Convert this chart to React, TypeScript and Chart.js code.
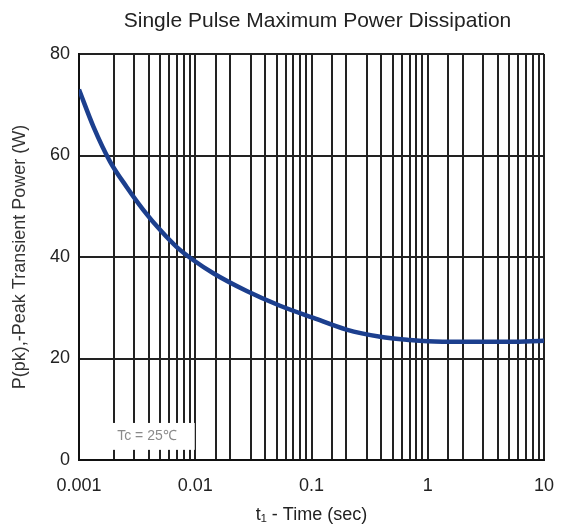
import React, { useEffect, useRef } from "react";
import { Chart, registerables } from "chart.js";

Chart.register(...registerables);

const titleText = "Single Pulse Maximum Power Dissipation";
const xTitle = "t\u2081 - Time (sec)";
const yTitle = "P(pk),-Peak Transient Power (W)";
const noteText = "Tc = 25\u2103";

const timeSec = [0.001, 0.00133, 0.00185, 0.00257, 0.00357, 0.005, 0.0069, 0.0096, 0.0143, 0.0277, 0.0536, 0.104, 0.2, 0.39, 0.7, 1, 2, 5, 10];
const powerW = [73, 65.7, 58.8, 53.8, 49.3, 45.3, 42.0, 39.4, 36.8, 33.3, 30.4, 28.0, 25.7, 24.3, 23.65, 23.4, 23.3, 23.3, 23.5];

const xMajorTicks = ["0.001", "0.01", "0.1", "1", "10"];
const yTickValues = [0, 20, 40, 60, 80];

const noteBox = { x0: 0.00175, x1: 0.0099, y0: 2, y1: 7.3 };

const FONT = "'Liberation Sans', Arial, sans-serif";

export default function App() {
  const ref = useRef<HTMLCanvasElement | null>(null);

  useEffect(() => {
    document.body.style.margin = "0";
    const canvas = ref.current;
    if (!canvas) return;

    const notePlugin = {
      id: "notePlugin",
      beforeDatasetsDraw(chart: any) {
        const { ctx, scales } = chart;
        const xs = scales.x;
        const ys = scales.y;
        const l = xs.getPixelForValue(noteBox.x0);
        const r = xs.getPixelForValue(noteBox.x1);
        const t = ys.getPixelForValue(noteBox.y1);
        const b = ys.getPixelForValue(noteBox.y0);
        ctx.save();
        ctx.fillStyle = "#ffffff";
        ctx.fillRect(l, t, r - l, b - t);
        ctx.fillStyle = "#8a8a8a";
        ctx.font = `14px ${FONT}`;
        ctx.textAlign = "center";
        ctx.textBaseline = "middle";
        ctx.fillText(noteText, (l + r) / 2 - 4, (t + b) / 2);
        ctx.restore();
      },
    };

    const titlePlugin = {
      id: "titlePlugin",
      afterDraw(chart: any) {
        const { ctx, chartArea } = chart;
        ctx.save();
        ctx.fillStyle = "#222";
        ctx.font = `21px ${FONT}`;
        ctx.textAlign = "center";
        ctx.textBaseline = "alphabetic";
        ctx.fillText(titleText, (chartArea.left + chartArea.right) / 2 + 6, chartArea.top - 27);
        ctx.restore();
      },
    };

    const chart = new Chart(canvas, {
      type: "line",
      data: {
        datasets: [
          {
            data: timeSec.map((t, i) => ({ x: t, y: powerW[i] })),
            borderColor: "#1c3f8e",
            borderWidth: 4.5,
            pointRadius: 0,
            cubicInterpolationMode: "monotone",
            fill: false,
          },
        ],
      },
      options: {
        animation: false,
        responsive: false,
        layout: { padding: { top: 54, right: 19, bottom: 0, left: 0 } },
        plugins: {
          legend: { display: false },
          tooltip: { enabled: false },
          title: { display: false },
        },
        scales: {
          x: {
            type: "logarithmic",
            min: 0.001,
            max: 10,
            afterFit(scale: any) {
              scale.height = 69;
              scale.paddingRight = 0;
              scale.paddingLeft = 0;
            },
            grid: { color: "#222", lineWidth: 2, drawTicks: false },
            border: { color: "#111", width: 2 },
            ticks: {
              autoSkip: false,
              maxRotation: 0,
              padding: 15,
              color: "#222",
              font: { family: FONT, size: 18 },
              callback(value: any) {
                const v = Number(value);
                const lg = Math.log10(v);
                if (Math.abs(lg - Math.round(lg)) < 1e-6) {
                  const idx = Math.round(lg) + 3;
                  return xMajorTicks[idx] ?? "";
                }
                return "";
              },
            },
            title: {
              display: true,
              text: xTitle,
              color: "#222",
              font: { family: FONT, size: 18 },
              padding: { top: 3, bottom: 3 },
            },
          },
          y: {
            type: "linear",
            min: 0,
            max: 80,
            afterFit(scale: any) {
              scale.width = 79;
            },
            afterBuildTicks(scale: any) {
              scale.ticks = yTickValues.map((v) => ({ value: v }));
            },
            grid: { color: "#222", lineWidth: 2, drawTicks: false },
            border: { color: "#111", width: 2 },
            ticks: {
              padding: 9,
              color: "#222",
              font: { family: FONT, size: 18 },
              callback(value: any) {
                return String(value);
              },
            },
            title: {
              display: true,
              text: yTitle,
              color: "#333",
              font: { family: FONT, size: 18 },
              padding: { top: 9, bottom: 4 },
            },
          },
        },
      },
      plugins: [notePlugin, titlePlugin],
    } as any);

    return () => chart.destroy();
  }, []);

  return (
    <div style={{ width: 563, height: 529 }}>
      <canvas ref={ref} width={563} height={529} style={{ display: "block" }} />
    </div>
  );
}
